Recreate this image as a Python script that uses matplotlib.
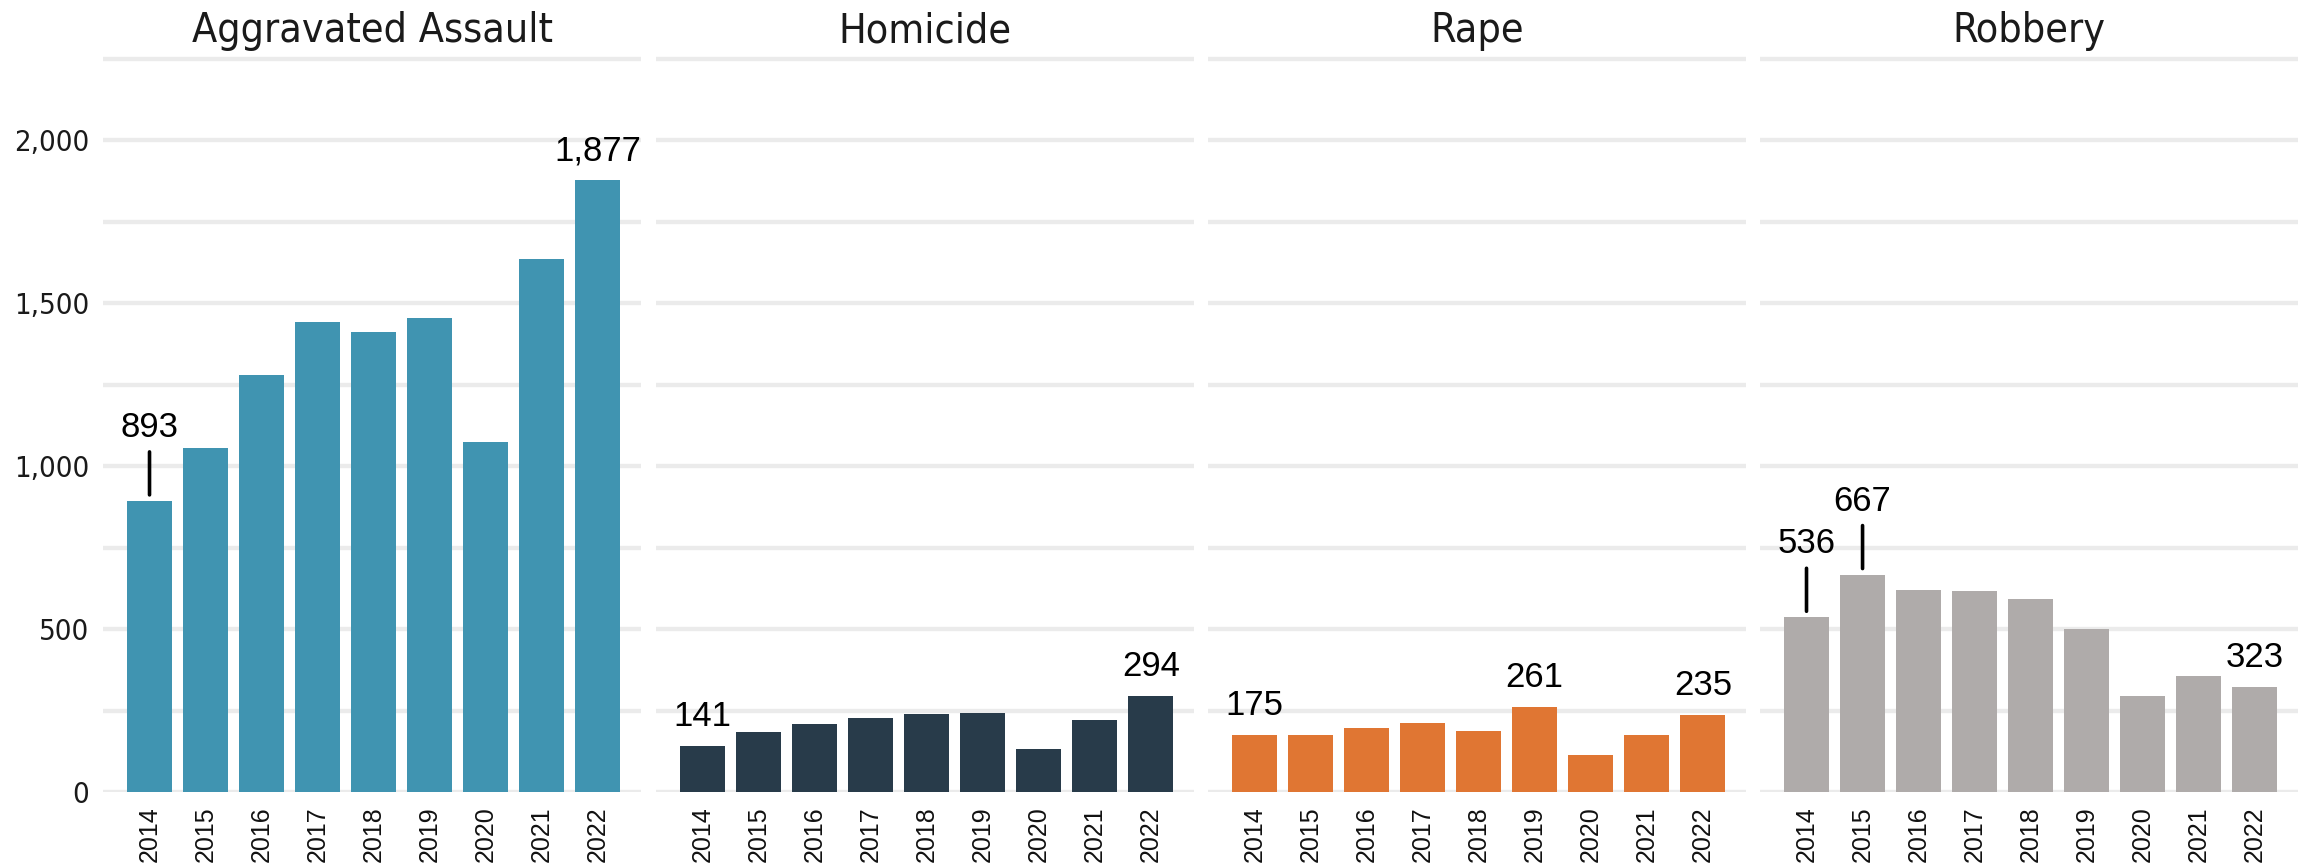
import numpy as np
import matplotlib
matplotlib.use('Agg')
import matplotlib.pyplot as plt

years = ['2014', '2015', '2016', '2017', '2018', '2019', '2020', '2021', '2022']
crimes = ['Aggravated Assault', 'Homicide', 'Rape', 'Robbery']

assault = [893, 1055, 1279, 1442, 1411, 1455, 1075, 1636, 1877]
homicide = [141, 184, 208, 226, 238, 241, 132, 220, 294]
rape = [175, 175, 196, 211, 186, 261, 113, 175, 235]
robbery = [536, 667, 620, 617, 593, 501, 293, 357, 323]

# which years get a value label, and which of those get a leader line
labelled = {
    'Aggravated Assault': [('2014', True), ('2022', False)],
    'Homicide': [('2014', False), ('2022', False)],
    'Rape': [('2014', False), ('2019', False), ('2022', False)],
    'Robbery': [('2014', True), ('2015', True), ('2022', False)],
}

colors = ['#4094B1', '#283B4A', '#E07633', '#AFABAA']
series = [assault, homicide, rape, robbery]

narrow = dict(family=['DejaVu Sans'], stretch='condensed')
plain = ['Liberation Sans', 'DejaVu Sans']

W, H = 2305, 868
fig = plt.figure(figsize=(W / 100, H / 100), dpi=100)

ymax = 2270
lefts = [103, 656, 1208, 1760]
pw = 538
bottom = (H - 792) / H
height = 792 - 52

x = np.arange(len(years))
for k, (name, vals, col) in enumerate(zip(crimes, series, colors)):
    ax = fig.add_axes([lefts[k] / W, bottom, pw / W, height / H])
    for g in np.arange(0, 2251, 250):
        ax.axhline(g, color='#EBEBEB', lw=3.1, zorder=0)
    ax.bar(x, vals, width=0.8, color=col, zorder=2)
    ax.set_xlim(-0.83, 8.77)
    ax.set_ylim(0, ymax)
    for s in ax.spines.values():
        s.set_visible(False)
    ax.set_xticks(x)
    ax.set_xticklabels(years, rotation=90, family=plain, fontsize=18, color='#111111')
    ax.tick_params(axis='x', length=0, pad=10)
    ax.set_yticks([0, 500, 1000, 1500, 2000])
    if k == 0:
        ax.set_yticklabels(['{:,}'.format(v) for v in [0, 500, 1000, 1500, 2000]],
                           fontsize=21, color='#1a1a1a', **narrow)
    else:
        ax.set_yticklabels([])
    ax.tick_params(axis='y', length=0, pad=10)
    ax.set_title(name, fontsize=29.5, color='#1a1a1a', pad=7, **narrow)

    for yr, leader in labelled[name]:
        i = years.index(yr)
        v = vals[i]
        off = 64 if leader else 20
        ax.annotate('{:,}'.format(v), (i, v), xytext=(0, off * 0.72),
                    textcoords='offset points', ha='center', va='baseline',
                    family=plain, fontsize=25, color='black', zorder=5)
        if leader:
            ax.annotate('', (i, v), xytext=(0, 49 * 0.72), textcoords='offset points',
                        arrowprops=dict(arrowstyle='-', lw=2.6, color='black',
                                        shrinkA=0, shrinkB=6 * 0.72))

fig.savefig('out.png', dpi=100)
